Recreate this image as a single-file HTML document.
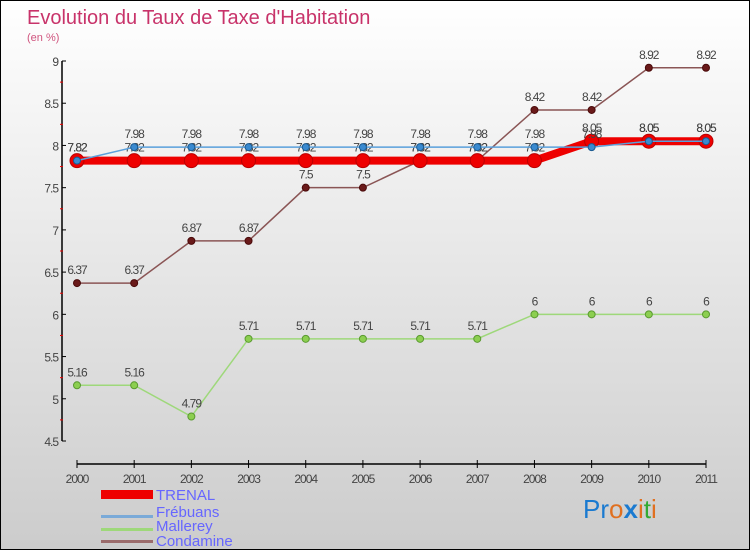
<!DOCTYPE html>
<html><head><meta charset="utf-8"><style>
body{margin:0;width:750px;height:550px;overflow:hidden;font-family:"Liberation Sans",sans-serif}
#wrap{position:relative;width:748px;height:548px;border:1px solid #000;background:linear-gradient(#fff,#ccc)}
svg{position:absolute;left:0;top:0}
</style></head><body>
<div id="wrap">
<svg id="chart" width="750" height="550">
<text x="26" y="23" font-size="20" fill="#c8336a">Evolution du Taux de Taxe d'Habitation</text>
<text x="26" y="40" font-size="11" fill="#d0557f">(en %)</text>
<g id="axes"></g><g id="series"></g>
<g>
<rect x="100" y="489" width="52" height="9" fill="#e00"/>
<text x="155" y="499" font-size="15" fill="#66f">TRENAL</text>
<rect x="100" y="514" width="52" height="3" fill="#7aaad8"/>
<text x="155" y="516" font-size="15" fill="#66f">Frébuans</text>
<rect x="100" y="527" width="52" height="3" fill="#9ed87a"/>
<text x="155" y="530" font-size="15" fill="#66f">Mallerey</text>
<rect x="100" y="539" width="52" height="3" fill="#9a6b6b"/>
<text x="155" y="545" font-size="15" fill="#66f">Condamine</text>
</g>
<text x="582" y="517" font-size="26"><tspan fill="#1a7ad0">Pr</tspan><tspan fill="#e07020">o</tspan><tspan fill="#1a7ad0" font-weight="bold">x</tspan><tspan fill="#e07020">i</tspan><tspan fill="#3a3">t</tspan><tspan fill="#e07020">i</tspan></text>
</svg></div>
<script>
const years=[2000,2001,2002,2003,2004,2005,2006,2007,2008,2009,2010,2011];
const yTicks=[4.5,5,5.5,6,6.5,7,7.5,8,8.5,9];
const trenal=[7.82,7.82,7.82,7.82,7.82,7.82,7.82,7.82,7.82,8.05,8.05,8.05];
const frebuans=[7.82,7.98,7.98,7.98,7.98,7.98,7.98,7.98,7.98,7.98,8.05,8.05];
const mallerey=[5.16,5.16,4.79,5.71,5.71,5.71,5.71,5.71,6,6,6,6];
const condamine=[6.37,6.37,6.87,6.87,7.5,7.5,7.82,7.82,8.42,8.42,8.92,8.92];
const NS="http://www.w3.org/2000/svg";
const X=i=>76+i*(705-76)/(years.length-1);
const Y=v=>440-(v-4.5)*(380/4.5);
function mk(t,a,p){const e=document.createElementNS(NS,t);for(const k in a)e.setAttribute(k,a[k]);p.appendChild(e);return e;}
const ax=document.getElementById('axes');
let l=mk('line',{x1:61,y1:60,x2:61,y2:440,stroke:'#000','stroke-width':1.5},ax);


l=mk('line',{x1:76,y1:463,x2:705,y2:463,stroke:'#000','stroke-width':1.5},ax);


yTicks.forEach((v,i)=>{
 mk('line',{x1:61,y1:Y(v),x2:65,y2:Y(v),stroke:'#000'},ax);
 if(i<yTicks.length-1)mk('line',{x1:59,y1:Y(v+0.25),x2:62,y2:Y(v+0.25),stroke:'#e00'},ax);
 const t=mk('text',{x:57,y:Y(v)+5,'font-size':12,fill:'#444','text-anchor':'end','letter-spacing':'-1'},ax);
 t.textContent=String(v);
 
 
});
years.forEach((y,i)=>{
 mk('line',{x1:X(i),y1:459,x2:X(i),y2:467,stroke:'#000'},ax);
 const t=mk('text',{x:X(i),y:482,'font-size':12,fill:'#444','text-anchor':'middle','letter-spacing':'-1'},ax);
 t.textContent=y;
 
 
});
const sg=document.getElementById('series');
function series(name,data,color,w,r,fill,stroke){
 const g=mk('g',{},sg);
 
 
 const p=mk('polyline',{points:data.map((v,i)=>X(i)+','+Y(v)).join(' '),fill:'none',stroke:color,'stroke-width':w},g);
 
 
 data.forEach((v,i)=>{
  const c=mk('circle',{cx:X(i),cy:Y(v),r:r,fill:fill,stroke:stroke,'stroke-width':1},g);
  
  
  const t=mk('text',{x:X(i),y:Y(v)-9,'font-size':12,fill:'#444','text-anchor':'middle','letter-spacing':'-1'},g);
  t.textContent=String(v);
  
  
 });
}
series('mallerey',mallerey,'#9ed87a',1.5,3.5,'#8ccf50','#5a9a30');
series('condamine',condamine,'#8a5555',1.5,3.5,'#6a1a1a','#4a0a0a');
series('trenal',trenal,'#e00',8,7,'#e00','#b00');
series('frebuans',frebuans,'#5aa0dc',1.5,3.5,'#3a8ad0','#1a5a90');
</script>
</body></html>
